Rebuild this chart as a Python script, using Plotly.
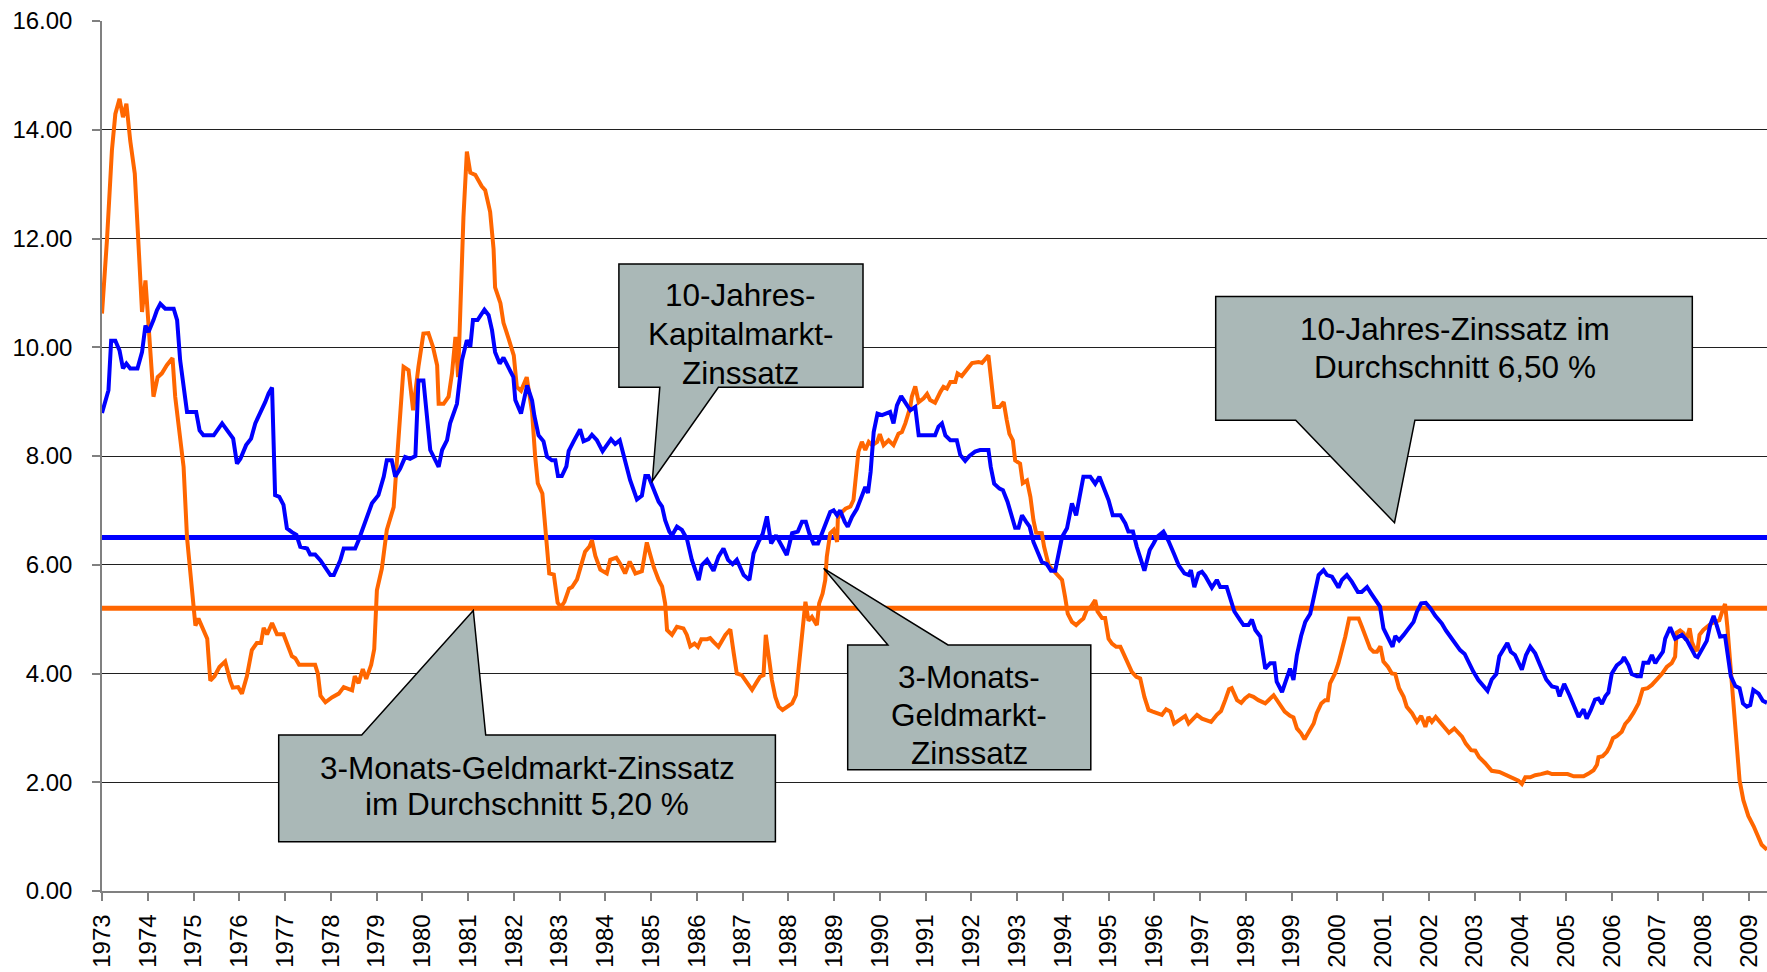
import plotly.graph_objects as go

# ---------------- data (months since Jan 1973, percent) ----------------
rate10_points = [
    (0, 8.79), (1.7, 9.21), (2.4, 10.12), (3.5, 10.12), (4.6, 9.94), (5.5, 9.61), (6.4, 9.70), (7.4, 9.61),
    (9.3, 9.61), (10.5, 9.91), (11.4, 10.40), (12.2, 10.28), (13.5, 10.50), (14.4, 10.68), (15.3, 10.80),
    (16.6, 10.71), (18.8, 10.71), (19.7, 10.50), (20.5, 9.76), (22.3, 8.81), (24.7, 8.81), (25.6, 8.47),
    (26.6, 8.38), (29.3, 8.38), (31.5, 8.60), (32.8, 8.47), (34.4, 8.32), (35.4, 7.86), (36.3, 7.95),
    (37.8, 8.20), (39.1, 8.32), (40.2, 8.60), (41.5, 8.78), (42.8, 8.99), (43.7, 9.15), (44.6, 9.26),
    (45.4, 7.28), (46.5, 7.25), (47.6, 7.10), (48.5, 6.67), (49.8, 6.60), (51.0, 6.55), (52.0, 6.33),
    (53.8, 6.30), (54.6, 6.19), (55.9, 6.19), (57.3, 6.08), (59.9, 5.81), (60.8, 5.81), (62.5, 6.08),
    (63.4, 6.30), (66.4, 6.30), (67.3, 6.45), (68.6, 6.70), (69.9, 6.94), (70.8, 7.13), (72.5, 7.28),
    (73.9, 7.62), (74.7, 7.92), (76.0, 7.92), (76.9, 7.62), (78.2, 7.77), (79.5, 7.98), (80.8, 7.95),
    (82.2, 8.00), (83.0, 9.39), (84.3, 9.39), (86.1, 8.11), (88.3, 7.80), (89.2, 8.11), (90.5, 8.29),
    (91.3, 8.60), (93.1, 8.96), (93.8, 9.45), (94.4, 9.76), (95.7, 10.13), (96.6, 10.01), (97.3, 10.50),
    (98.5, 10.50), (100.3, 10.69), (101.4, 10.59), (102.3, 10.31), (103.1, 9.91), (104.3, 9.70),
    (105.3, 9.81), (106.6, 9.63), (107.9, 9.45), (108.4, 9.03), (109.9, 8.78), (111.5, 9.30), (112.8, 9.02),
    (113.4, 8.74), (114.5, 8.38), (115.8, 8.27), (116.7, 7.99), (118.0, 7.92), (118.9, 7.92), (119.6, 7.63),
    (120.6, 7.63), (121.8, 7.81), (122.4, 8.09), (123.7, 8.27), (125.4, 8.49), (126.3, 8.27), (127.6, 8.31),
    (128.5, 8.39), (129.8, 8.29), (131.3, 8.09), (132.4, 8.20), (133.5, 8.31), (134.6, 8.22), (135.8, 8.29),
    (136.8, 8.02), (138.5, 7.56), (140.3, 7.20), (141.6, 7.27), (142.5, 7.63), (143.3, 7.63), (144.5, 7.42),
    (146.0, 7.16), (146.9, 7.07), (147.7, 6.82), (148.8, 6.61), (149.5, 6.54), (150.8, 6.70), (152.1, 6.64),
    (153.4, 6.48), (154.7, 6.09), (156.5, 5.72), (157.3, 5.99), (158.7, 6.09), (160.4, 5.89), (161.7, 6.15),
    (163.0, 6.30), (164.2, 6.09), (165.4, 6.01), (166.5, 6.09), (168.3, 5.81), (169.8, 5.72), (170.9, 6.21),
    (172.2, 6.42), (173.3, 6.57), (174.4, 6.89), (175.5, 6.39), (176.8, 6.54), (178.3, 6.33), (179.6, 6.18),
    (181.0, 6.58), (182.5, 6.61), (183.6, 6.79), (184.6, 6.79), (185.5, 6.58), (186.6, 6.39), (187.8, 6.39),
    (188.8, 6.58), (190.1, 6.79), (191.0, 6.97), (191.9, 7.00), (192.8, 6.91), (193.6, 7.00), (194.8, 6.79),
    (195.6, 6.70), (196.7, 6.88), (198.0, 7.03), (199.1, 7.22), (200.2, 7.43), (200.9, 7.32), (201.6, 7.71),
    (202.4, 8.44), (203.4, 8.78), (204.6, 8.75), (205.9, 8.79), (206.7, 8.81), (207.6, 8.60), (208.5, 8.93),
    (209.6, 9.10), (210.7, 8.99), (212.0, 8.84), (213.3, 8.90), (214.2, 8.38), (218.5, 8.38), (219.4, 8.54),
    (220.3, 8.60), (221.2, 8.38), (222.5, 8.29), (224.2, 8.29), (225.1, 8.02), (226.4, 7.91), (227.5, 8.00),
    (229.0, 8.08), (230.3, 8.11), (232.5, 8.11), (233.1, 7.80), (234.0, 7.49), (235.4, 7.40), (236.3, 7.37),
    (237.5, 7.16), (238.6, 6.88), (239.5, 6.68), (240.4, 6.68), (241.3, 6.91), (242.4, 6.79), (243.3, 6.70),
    (244.3, 6.42), (245.4, 6.21), (246.5, 6.05), (247.8, 6.01), (248.9, 5.89), (250.0, 5.89), (250.9, 6.21),
    (251.8, 6.51), (253.1, 6.67), (254.4, 7.13), (255.5, 6.91), (256.4, 7.25), (257.4, 7.62), (259.2, 7.62),
    (260.5, 7.49), (261.6, 7.62), (263.1, 7.37), (264.0, 7.19), (265.1, 6.91), (267.1, 6.91), (268.4, 6.76),
    (269.2, 6.61), (270.4, 6.61), (271.4, 6.33), (273.4, 5.89), (274.8, 6.27), (275.8, 6.39), (276.7, 6.51),
    (278.4, 6.61), (279.7, 6.44), (281.1, 6.21), (282.4, 5.99), (283.9, 5.84), (285.0, 5.81), (285.6, 5.90),
    (286.5, 5.59), (287.6, 5.84), (288.5, 5.87), (289.4, 5.79), (291.1, 5.58), (292.4, 5.72), (293.3, 5.59),
    (295.0, 5.59), (295.9, 5.38), (297.0, 5.14), (298.5, 4.98), (299.4, 4.89), (300.7, 4.89), (301.6, 4.99),
    (302.5, 4.80), (303.8, 4.68), (305.1, 4.09), (306.4, 4.19), (307.5, 4.19), (308.1, 3.85), (309.5, 3.66),
    (310.8, 3.94), (311.6, 4.09), (312.5, 3.88), (313.4, 4.34), (314.5, 4.69), (315.6, 4.95), (316.9, 5.10),
    (318.0, 5.44), (319.1, 5.81), (320.4, 5.90), (321.3, 5.81), (322.6, 5.78), (323.4, 5.69), (324.3, 5.58),
    (325.2, 5.72), (326.5, 5.81), (327.8, 5.69), (329.4, 5.50), (330.4, 5.50), (331.8, 5.59), (332.9, 5.47),
    (334.4, 5.32), (335.2, 5.23), (336.1, 4.83), (337.4, 4.64), (338.5, 4.49), (339.2, 4.69), (340.2, 4.61),
    (341.4, 4.71), (342.7, 4.83), (344.0, 4.95), (344.9, 5.14), (346.0, 5.29), (347.2, 5.30), (348.4, 5.20),
    (349.7, 5.06), (351.4, 4.92), (352.5, 4.79), (353.9, 4.66), (354.9, 4.55), (356.2, 4.43), (357.4, 4.36),
    (358.4, 4.20), (359.7, 4.03), (361.0, 3.88), (362.2, 3.79), (363.4, 3.68), (364.5, 3.89), (365.7, 3.99),
    (366.5, 4.32), (367.6, 4.44), (368.6, 4.56), (369.5, 4.40), (370.6, 4.34), (372.4, 4.07), (373.5, 4.34),
    (374.6, 4.49), (375.9, 4.37), (377.2, 4.15), (378.8, 3.89), (380.3, 3.76), (381.6, 3.74), (382.3, 3.58),
    (383.5, 3.81), (384.9, 3.60), (386.1, 3.42), (387.3, 3.20), (388.6, 3.34), (389.4, 3.17), (390.5, 3.33),
    (391.6, 3.52), (392.5, 3.54), (393.4, 3.44), (394.3, 3.58), (395.1, 3.65), (396.0, 4.00), (397.3, 4.15),
    (398.6, 4.22), (399.2, 4.30), (400.4, 4.15), (401.2, 3.99), (402.6, 3.95), (403.6, 3.95), (404.3, 4.20),
    (405.6, 4.20), (406.5, 4.34), (407.4, 4.19), (408.2, 4.28), (409.4, 4.40), (410.0, 4.64), (411.3, 4.85),
    (412.6, 4.64), (414.4, 4.71), (415.7, 4.61), (416.7, 4.48), (417.9, 4.32), (418.5, 4.30), (419.9, 4.46),
    (420.9, 4.60), (421.8, 4.89), (422.7, 5.06), (423.5, 4.89), (424.4, 4.68), (425.7, 4.69), (426.6, 4.28),
    (427.2, 3.95), (428.4, 3.77), (429.5, 3.73), (430.4, 3.45), (431.4, 3.39), (432.3, 3.42), (433.1, 3.70),
    (434.5, 3.63), (435.6, 3.50), (436.7, 3.46),
]

rate3m_points = [
    (0, 10.62), (1.3, 11.97), (2.6, 13.62), (3.5, 14.29), (4.6, 14.57), (5.5, 14.23), (6.4, 14.48),
    (7.4, 13.80), (8.6, 13.19), (9.6, 11.97), (10.5, 10.65), (11.4, 11.23), (12.3, 10.25), (13.5, 9.09),
    (14.6, 9.45), (15.7, 9.52), (17.0, 9.67), (18.5, 9.80), (19.2, 9.09), (21.4, 7.80), (22.3, 6.50),
    (23.4, 5.69), (24.5, 4.88), (25.3, 5.01), (26.4, 4.84), (27.6, 4.64), (28.4, 3.87), (29.5, 3.95),
    (30.8, 4.12), (32.3, 4.22), (33.6, 3.87), (34.3, 3.74), (35.7, 3.75), (36.7, 3.63), (38.0, 3.95),
    (39.3, 4.43), (40.6, 4.56), (41.7, 4.56), (42.4, 4.84), (43.3, 4.72), (44.6, 4.93), (45.9, 4.72),
    (47.6, 4.72), (48.9, 4.48), (49.8, 4.32), (50.7, 4.28), (51.7, 4.16), (53.3, 4.16), (55.9, 4.16),
    (56.6, 4.00), (57.3, 3.59), (58.6, 3.47), (60.3, 3.56), (62.1, 3.63), (63.4, 3.75), (65.6, 3.69),
    (66.3, 3.95), (67.3, 3.82), (68.4, 4.08), (69.3, 3.90), (70.6, 4.16), (71.4, 4.45), (72.1, 5.53),
    (73.4, 5.93), (74.7, 6.64), (76.5, 7.06), (77.4, 7.92), (78.2, 8.60), (79.1, 9.64), (80.4, 9.58),
    (81.6, 8.84), (83.0, 9.64), (84.3, 10.25), (85.6, 10.26), (86.8, 10.01), (87.9, 9.67), (88.3, 8.96),
    (89.6, 8.96), (90.9, 9.09), (91.8, 9.52), (92.7, 10.19), (93.4, 9.45), (94.0, 10.67), (94.8, 12.39),
    (95.7, 13.60), (96.6, 13.21), (97.9, 13.17), (99.6, 12.96), (100.5, 12.89), (101.8, 12.49), (102.7, 11.81),
    (103.1, 11.10), (104.5, 10.81), (105.3, 10.45), (106.6, 10.17), (108.0, 9.85), (108.8, 9.27),
    (109.9, 9.20), (111.4, 9.45), (112.8, 8.81), (113.6, 8.00), (114.3, 7.50), (115.5, 7.31), (116.5, 6.58),
    (117.3, 5.84), (118.5, 5.82), (119.5, 5.30), (120.4, 5.22), (121.3, 5.32), (122.5, 5.56), (123.3, 5.59),
    (124.6, 5.73), (125.4, 5.95), (126.7, 6.24), (127.9, 6.34), (128.5, 6.45), (129.4, 6.16), (130.7, 5.91),
    (132.4, 5.84), (133.3, 6.09), (134.9, 6.13), (135.9, 6.02), (137.2, 5.84), (138.4, 6.06), (139.9, 5.84),
    (141.6, 5.88), (142.9, 6.41), (144.7, 5.96), (146.0, 5.72), (146.9, 5.60), (147.7, 5.29), (148.2, 4.80),
    (149.5, 4.71), (150.8, 4.86), (152.5, 4.83), (153.4, 4.71), (154.3, 4.50), (155.4, 4.55), (156.3, 4.49),
    (157.2, 4.63), (158.7, 4.63), (159.5, 4.65), (160.4, 4.58), (161.7, 4.49), (163.5, 4.71), (164.8, 4.81),
    (165.7, 4.37), (166.5, 4.00), (167.8, 3.97), (169.2, 3.82), (170.5, 3.70), (171.8, 3.85), (172.6, 3.94),
    (173.5, 3.97), (174.1, 4.71), (175.0, 4.25), (175.7, 3.88), (176.6, 3.57), (177.5, 3.39), (178.5, 3.33),
    (179.6, 3.39), (181.0, 3.45), (182.0, 3.60), (182.9, 4.25), (183.6, 4.80), (184.5, 5.32), (185.3, 4.97),
    (186.2, 5.04), (187.5, 4.89), (188.1, 5.29), (189.0, 5.47), (189.7, 5.72), (190.1, 6.15), (191.0, 6.58),
    (191.9, 6.64), (192.8, 6.42), (193.0, 6.85), (194.1, 6.97), (195.0, 7.03), (196.3, 7.07), (197.1, 7.19),
    (197.8, 7.62), (198.4, 8.08), (199.3, 8.26), (200.2, 8.11), (201.1, 8.26), (202.0, 8.20), (203.3, 8.26),
    (204.0, 8.40), (205.0, 8.20), (206.3, 8.29), (207.6, 8.20), (208.9, 8.41), (209.8, 8.44), (210.7, 8.60),
    (212.0, 8.90), (212.4, 9.09), (213.3, 9.28), (214.2, 8.99), (215.5, 9.06), (216.4, 9.14), (217.2, 9.03),
    (218.5, 8.98), (219.9, 9.18), (220.7, 9.27), (221.6, 9.24), (222.5, 9.36), (223.8, 9.36), (224.4, 9.52),
    (225.5, 9.47), (226.9, 9.61), (228.2, 9.71), (229.9, 9.73), (230.8, 9.71), (232.5, 9.85), (233.1, 9.39),
    (234.0, 8.90), (235.4, 8.90), (236.5, 8.99), (237.3, 8.66), (238.0, 8.41), (238.9, 8.29), (239.5, 7.92),
    (240.8, 7.86), (241.5, 7.50), (242.6, 7.55), (243.5, 7.25), (244.3, 6.82), (245.0, 6.59), (246.5, 6.58),
    (247.1, 6.33), (248.3, 5.99), (249.6, 5.89), (250.9, 5.81), (251.8, 5.72), (252.6, 5.41), (253.3, 5.10),
    (254.4, 4.95), (255.5, 4.89), (256.4, 4.95), (257.4, 5.01), (258.3, 5.17), (259.4, 5.23), (260.5, 5.35),
    (261.1, 5.14), (262.3, 5.02), (263.1, 5.02), (264.0, 4.64), (264.9, 4.55), (266.0, 4.49), (267.1, 4.49),
    (267.9, 4.37), (269.0, 4.19), (270.1, 4.03), (271.3, 3.94), (272.3, 3.91), (273.4, 3.57), (274.5, 3.33),
    (275.6, 3.30), (277.1, 3.27), (278.0, 3.24), (279.1, 3.34), (280.2, 3.30), (281.2, 3.08), (282.6, 3.15),
    (284.1, 3.22), (285.0, 3.08), (286.1, 3.16), (287.2, 3.24), (288.5, 3.17), (290.9, 3.11), (292.4, 3.24),
    (293.5, 3.31), (294.6, 3.51), (295.6, 3.71), (296.3, 3.73), (297.7, 3.51), (298.8, 3.46), (299.8, 3.54),
    (300.9, 3.60), (302.0, 3.57), (303.3, 3.51), (305.1, 3.45), (307.3, 3.60), (308.6, 3.46), (310.2, 3.30),
    (311.6, 3.22), (312.5, 3.19), (313.4, 2.99), (314.5, 2.90), (315.4, 2.79), (316.5, 2.93), (317.8, 3.08),
    (318.6, 3.27), (319.8, 3.45), (320.8, 3.51), (321.5, 3.51), (322.1, 3.82), (323.4, 4.00), (324.3, 4.19),
    (325.2, 4.43), (326.1, 4.68), (327.1, 5.01), (328.3, 5.01), (329.6, 5.01), (330.4, 4.87), (331.5, 4.68),
    (332.6, 4.46), (333.5, 4.40), (334.4, 4.40), (335.3, 4.50), (336.1, 4.22), (337.3, 4.12), (338.3, 4.00),
    (339.2, 3.99), (340.2, 3.73), (341.4, 3.57), (342.2, 3.39), (343.6, 3.27), (344.9, 3.11), (346.0, 3.22),
    (347.1, 3.02), (347.9, 3.20), (348.8, 3.11), (349.8, 3.20), (351.4, 3.07), (353.3, 2.91), (354.7, 2.99),
    (355.8, 2.90), (356.7, 2.84), (357.7, 2.71), (359.1, 2.59), (360.2, 2.58), (361.2, 2.46), (362.8, 2.35),
    (364.5, 2.21), (366.5, 2.19), (368.5, 2.13), (370.2, 2.07), (371.5, 2.03), (372.4, 1.97), (373.3, 2.09),
    (374.6, 2.09), (375.9, 2.13), (377.4, 2.15), (379.1, 2.18), (380.3, 2.15), (384.4, 2.15), (386.0, 2.11),
    (388.6, 2.11), (389.9, 2.16), (391.2, 2.22), (392.1, 2.32), (392.5, 2.46), (393.6, 2.48), (394.7, 2.56),
    (395.4, 2.65), (396.3, 2.81), (397.3, 2.85), (398.6, 2.93), (399.5, 3.07), (400.6, 3.16), (401.7, 3.28),
    (403.0, 3.45), (404.1, 3.71), (405.4, 3.73), (406.5, 3.79), (407.8, 3.88), (409.1, 3.99), (410.4, 4.12),
    (411.7, 4.19), (412.6, 4.31), (413.0, 4.75), (413.9, 4.79), (414.8, 4.74), (415.5, 4.61), (416.4, 4.83),
    (417.0, 4.58), (417.9, 4.43), (418.5, 4.44), (419.0, 4.71), (420.0, 4.80), (421.1, 4.86), (421.9, 4.91),
    (423.1, 4.95), (424.2, 4.98), (425.1, 5.17), (425.7, 5.28), (426.3, 4.86), (427.0, 4.19), (427.9, 3.45),
    (428.8, 2.53), (429.5, 2.04), (430.5, 1.67), (431.8, 1.38), (433.2, 1.19), (434.5, 1.00), (435.3, 0.85),
    (436.7, 0.76),
]

avg_10y = 6.50
avg_3m = 5.20
year_ticks = list(range(1973, 2010))
year_labels = [str(y) for y in year_ticks]
y_ticks = [0, 2, 4, 6, 8, 10, 12, 14, 16]
y_labels = ["0.00", "2.00", "4.00", "6.00", "8.00", "10.00", "12.00", "14.00", "16.00"]
last_month = 436.7

# ---------------- helpers ----------------
def to_years(months):
    return [1973 + m / 12.0 for m in months]

r10_m, r10_v = zip(*rate10_points)
r3_m, r3_v = zip(*rate3m_points)

W, H = 1767, 972
ML, MR, MT, MB = 102, 0, 21, 81
PW, PH = W - ML - MR, H - MT - MB


def px(x):
    return (x - ML) / PW


def py(y):
    return (H - MB - y) / PH


FONT = "Liberation Sans, Arial, sans-serif"
BLUE = "#0000FF"
ORANGE = "#FF6600"
BOXFILL = "#AAB8B7"

x_start, x_end = 1973, 1973 + last_month / 12.0

fig = go.Figure()
fig.add_trace(go.Scatter(x=[x_start, x_end], y=[avg_10y, avg_10y], mode="lines",
                         line=dict(color=BLUE, width=5), hoverinfo="skip"))
fig.add_trace(go.Scatter(x=[x_start, x_end], y=[avg_3m, avg_3m], mode="lines",
                         line=dict(color=ORANGE, width=5), hoverinfo="skip"))
fig.add_trace(go.Scatter(x=to_years(r3_m), y=r3_v, mode="lines",
                         line=dict(color=ORANGE, width=4)))
fig.add_trace(go.Scatter(x=to_years(r10_m), y=r10_v, mode="lines",
                         line=dict(color=BLUE, width=4)))

# callouts: box (L, R, T, B) in pixels, pointer base (x1, x2) and tip, text lines (text, cx, cy)
callouts = [
    dict(box=(618.9, 863.0, 264.0, 387.3), side="bottom", base=(659.8, 718.4), tip=(652.3, 481.0),
         lines=[("10-Jahres-", 740.5, 295.0), ("Kapitalmarkt-", 740.5, 333.5), ("Zinssatz", 740.5, 372.5)]),
    dict(box=(1215.7, 1692.3, 296.4, 420.2), side="bottom", base=(1295.7, 1414.9), tip=(1394.5, 522.7),
         lines=[("10-Jahres-Zinssatz im", 1454.5, 329.5), ("Durchschnitt 6,50 %", 1454.5, 367.0)]),
    dict(box=(847.7, 1090.8, 645.0, 769.7), side="top", base=(887.9, 948.0), tip=(823.6, 568.3),
         lines=[("3-Monats-", 969.0, 677.0), ("Geldmarkt-", 969.0, 715.0), ("Zinssatz", 969.0, 753.0)]),
    dict(box=(278.7, 775.4, 735.0, 841.7), side="top", base=(361.7, 485.7), tip=(473.3, 610.5),
         lines=[("3-Monats-Geldmarkt-Zinssatz", 527.0, 768.0), ("im Durchschnitt 5,20 %", 527.0, 804.0)]),
]

shapes = []
annotations = []
for c in callouts:
    L, R, T, B = c["box"]
    b1, b2 = c["base"]
    tx, ty = c["tip"]
    if c["side"] == "bottom":
        pts = [(L, T), (R, T), (R, B), (b2, B), (tx, ty), (b1, B), (L, B)]
    else:
        pts = [(L, T), (b1, T), (tx, ty), (b2, T), (R, T), (R, B), (L, B)]
    path = "M " + " L ".join(f"{px(x):.5f},{py(y):.5f}" for x, y in pts) + " Z"
    shapes.append(dict(type="path", path=path, xref="paper", yref="paper",
                       fillcolor=BOXFILL, line=dict(color="#000000", width=1.5), layer="above"))
    for text, cx, cy in c["lines"]:
        annotations.append(dict(text=text, x=px(cx), y=py(cy), xref="paper", yref="paper",
                                xanchor="center", yanchor="middle", showarrow=False,
                                font=dict(family=FONT, size=31.5, color="#000000")))

fig.update_layout(
    width=W, height=H,
    margin=dict(l=ML, r=MR, t=MT, b=MB, pad=0, autoexpand=False),
    paper_bgcolor="white", plot_bgcolor="white",
    showlegend=False,
    shapes=shapes, annotations=annotations,
    font=dict(family=FONT, size=24, color="#000000"),
)
fig.update_xaxes(
    automargin=False,
    range=[x_start, x_end], tickmode="array", tickvals=year_ticks, ticktext=year_labels,
    tickangle=-90, ticks="outside", ticklen=8, tickcolor="#808080", tickwidth=1.5,
    ticklabelstandoff=4,
    showline=True, linecolor="#808080", linewidth=1.5, showgrid=False, zeroline=False,
    tickfont=dict(family=FONT, size=24, color="#000000"),
)
fig.update_yaxes(
    automargin=False,
    range=[0, 16], tickmode="array", tickvals=y_ticks, ticktext=y_labels,
    ticks="outside", ticklen=8, tickcolor="#808080", tickwidth=1.5,
    ticklabelstandoff=15,
    showline=True, linecolor="#808080", linewidth=1.5,
    showgrid=True, gridcolor="#202020", gridwidth=1, zeroline=False,
    tickfont=dict(family=FONT, size=24, color="#000000"),
)

fig.write_html(
    "out.html",
    config={"displayModeBar": False},
    post_script="document.body.style.margin='0px';document.body.style.overflow='hidden';",
)
